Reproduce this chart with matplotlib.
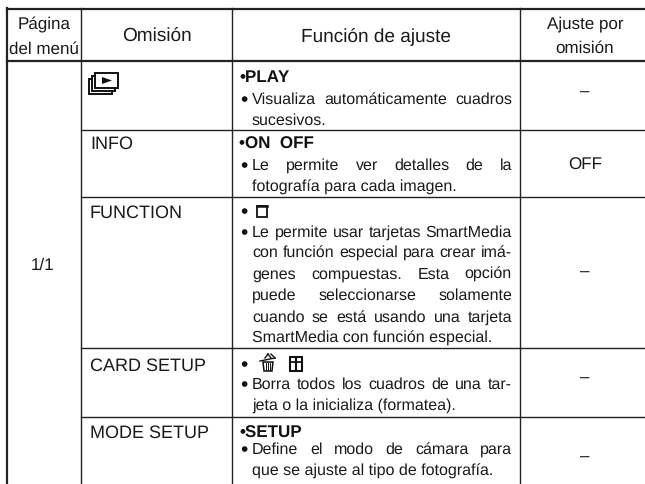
import matplotlib
matplotlib.use('Agg')
import matplotlib.pyplot as plt
from matplotlib.patches import Rectangle, Polygon

plt.rcParams['font.family'] = ['Liberation Sans', 'DejaVu Sans']
plt.rcParams['text.hinting'] = 'no_hinting'
plt.rcParams['text.hinting_factor'] = 1
FS = 12.3
FS_BODY = 11.8
FS_BIG = 13.3
FS_BULLET = 15
INK = '#1a1a1a'

# table content
headers = [('Página', 44, 25, FS), ('del menú', 44, 49, FS), ('Omisión', 157, 37, 13.4),
           ('Función de ajuste', 376, 37, 13.4), ('Ajuste por', 585, 24, FS), ('omisión', 585, 48, FS)]
col1 = '1/1'
omision = [('INFO', 148.5), ('FUNCTION', 217.5), ('CARD SETUP', 371), ('MODE SETUP', 438)]
bold_lines = [('•PLAY', 82.5), ('•ON  OFF', 149), ('•SETUP', 437.5)]
defaults = [('–', 92), ('OFF', 165), ('–', 272), ('–', 378), ('–', 457)]
bullet_only = [215.5, 369]
# (text, baseline, justified)
body = [
    ('Visualiza automáticamente cuadros', 103.5, True),
    ('sucesivos.', 124.5, False),
    ('Le permite ver detalles de la', 169.5, True),
    ('fotografía para cada imagen.', 191.5, False),
    ('Le permite usar tarjetas SmartMedia', 236.5, True),
    ('con función especial para crear imá-', 256.5, True),
    ('genes compuestas. Esta opción', 278.5, True),
    ('puede seleccionarse solamente', 299.5, True),
    ('cuando se está usando una tarjeta', 321.5, True),
    ('SmartMedia con función especial.', 342.5, False),
    ('Borra todos los cuadros de una tar-', 388.5, True),
    ('jeta o la inicializa (formatea).', 409.5, False),
    ('Define el modo de cámara para', 453.5, True),
    ('que se ajuste al tipo de fotografía.', 475.5, False),
]
with_bullet = [103.5, 169.5, 236.5, 388.5, 453.5]
h_rules = [(61, 1.6), (130, 1.0), (197, 1.0), (348, 1.0), (417, 1.0)]
v_rules = [(7, 1.6), (81, 1.0), (232, 1.0), (520, 1.0)]

fig = plt.figure(figsize=(6.45, 4.84), dpi=100)
ax = fig.add_axes([0, 0, 1, 1])
ax.set_xlim(0, 645)
ax.set_ylim(484, 0)
ax.axis('off')

# rules
ax.plot([7, 645], [8.5, 8.5], color='#222222', lw=1.6)
for y, w in h_rules:
    x0 = 7 if y == 61 else 81
    ax.plot([x0, 645], [y, y], color='#222222', lw=w)
for x, w in v_rules:
    ax.plot([x, x], [8, 484], color='#222222', lw=w)

for t, x, y, fs in headers:
    ax.text(x, y, t, ha='center', va='center', fontsize=fs, color=INK)
ax.text(43, 265, col1, ha='center', va='center', fontsize=FS, color=INK)
for t, y in omision:
    ax.text(90, y, t, ha='left', va='baseline', fontsize=FS_BIG, color=INK)
for t, y in defaults:
    ax.text(585, y, t, ha='center', va='center', fontsize=FS, color=INK)
for t, y in bold_lines:
    ax.text(239, y, t, ha='left', va='baseline', fontsize=FS, fontweight='bold', color='#111111')
for y in bullet_only:
    ax.text(240, y + 2.5, '•', ha='left', va='baseline', fontsize=FS_BULLET, color='#111111')

# body lines, justified word by word
LEFT, RIGHT = 252, 512
fig.canvas.draw()
rend = fig.canvas.get_renderer()
for line, y, just in body:
    if y in with_bullet:
        ax.text(240, y + 2.5, '•', ha='left', va='baseline', fontsize=FS_BULLET, color='#111111')
    if not just:
        ax.text(LEFT, y, line, ha='left', va='baseline', fontsize=FS_BODY, color=INK)
        continue
    words = line.split(' ')
    items = [ax.text(0, y, w, ha='left', va='baseline', fontsize=FS_BODY, color=INK) for w in words]
    widths = [i.get_window_extent(rend).width for i in items]
    gap = (RIGHT - LEFT - sum(widths)) / (len(words) - 1)
    x = LEFT
    for item, w in zip(items, widths):
        item.set_x(x)
        x += w + gap

# play icon in first row, front frame on top
for dx, dy, z in [(-6, 6, 3), (-3, 3, 4), (0, 0, 5)]:
    ax.add_patch(Rectangle((95 + dx, 73 + dy), 23, 15, fc='white', ec='#111111', lw=1.4, zorder=z))
ax.add_patch(Polygon([[102, 77], [102, 84], [112, 80.5]], fc='#111111', ec='none', zorder=9))

# single frame icon
ax.add_patch(Rectangle((256.5, 206), 10, 11, fc='white', ec='#111111', lw=1.3))
ax.plot([256.5, 266.5], [206, 206], color='#111111', lw=1.8)

# erase icon
ax.add_patch(Polygon([[263, 362], [273, 362], [272, 371], [264, 371]], fc='white', ec='#111111', lw=1.1))
for x in [266, 268, 270]:
    ax.plot([x, x], [363, 370], color='#111111', lw=0.7)
ax.plot([260, 275], [361, 358], color='#111111', lw=1.0)
ax.plot([265, 268], [358, 354], color='#111111', lw=1.0)
ax.plot([268, 271], [354, 358], color='#111111', lw=1.0)
ax.plot([271, 275], [354, 358], color='#111111', lw=1.0)

# format icon
ax.add_patch(Rectangle((290, 357), 12, 14, fc='white', ec='#111111', lw=1.5))
ax.plot([296, 296], [359, 369], color='#111111', lw=1.5)
ax.plot([292, 300], [361.5, 361.5], color='#111111', lw=1.3)

fig.savefig('out.png', dpi=100)
